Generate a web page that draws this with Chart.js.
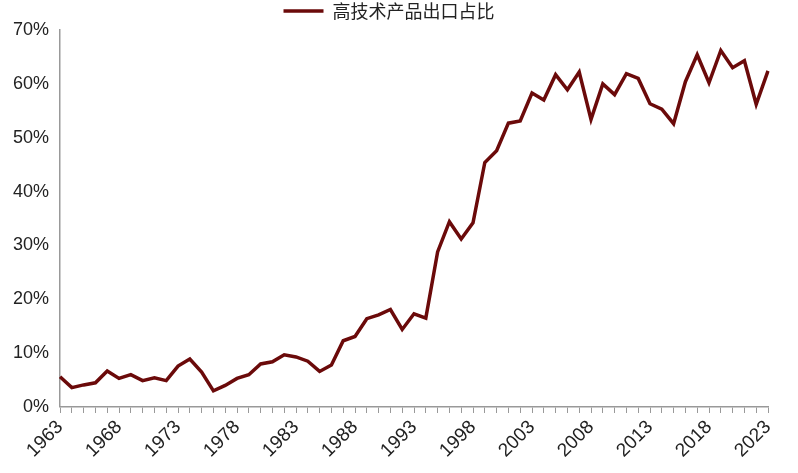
<!DOCTYPE html>
<html><head><meta charset="utf-8">
<script src="https://cdn.jsdelivr.net/npm/chart.js@4"></script>
<style>body{margin:0;background:#fff}#w{width:798px;height:473px}</style>
</head><body><div id="w"><canvas id="c"></canvas></div>
<script>
const years=[];for(let y=1963;y<=2023;y++)years.push(String(y));
const seriesName='高技术产品出口占比';
const values=[5.6,3.6,4.1,4.5,6.7,5.3,6.0,4.9,5.4,4.9,7.6,8.9,6.5,3.0,4.0,5.3,6.0,8.0,8.4,9.7,9.3,8.5,6.6,7.8,12.3,13.1,16.4,17.1,18.1,14.4,17.3,16.5,28.8,34.4,31.2,34.2,45.4,47.6,52.7,53.1,58.3,57.0,61.7,58.9,62.2,53.4,60.0,58.0,61.9,61.0,56.3,55.3,52.6,60.4,65.4,60.2,66.2,63.0,64.3,56.2,62.4];
const yTicks=[0,10,20,30,40,50,60,70];
new Chart(document.getElementById('c'),{type:'line',
data:{labels:years,datasets:[{label:seriesName,data:values,borderColor:'#6b0a0a',backgroundColor:'#6b0a0a',borderWidth:3.5,pointRadius:0,tension:0}]},
options:{responsive:true,maintainAspectRatio:false,animation:false,
layout:{padding:{left:10,right:30,top:0,bottom:8}},
plugins:{legend:{position:'top',labels:{font:{size:18,family:'Noto Sans CJK SC'},color:'#222',boxWidth:40,boxHeight:0,padding:2}},tooltip:{enabled:false}},
scales:{
x:{grid:{display:true,drawOnChartArea:false,color:'#999',tickLength:6},border:{color:'#999',width:1.5},
ticks:{autoSkip:false,maxRotation:45,minRotation:45,font:{size:19,family:'Liberation Sans'},color:'#222',
callback:function(v,i){return (i%5===0)?years[i]:'';}}},
y:{min:0,max:70,afterBuildTicks:a=>{a.ticks=yTicks.map(v=>({value:v}));},grid:{display:false},border:{color:'#999',width:1.5},
ticks:{font:{size:18,family:'Liberation Sans'},color:'#222',callback:v=>v+'%'}}
}}});
</script></body></html>
